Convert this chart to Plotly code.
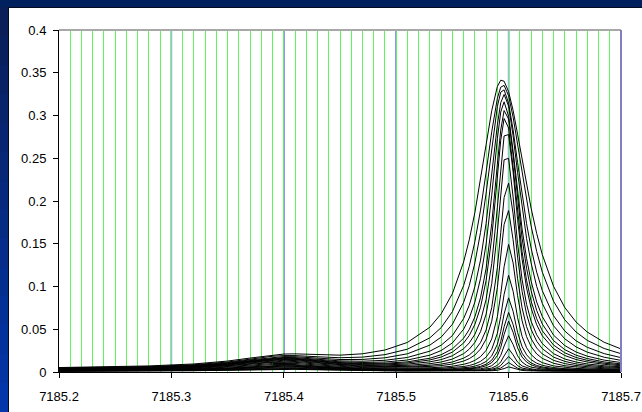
import plotly.graph_objects as go

# ---------------- data ----------------
wavelength = [7185.20, 7185.24, 7185.28, 7185.32, 7185.35, 7185.37, 7185.39, 7185.40, 7185.41, 7185.43,
              7185.45, 7185.47, 7185.49, 7185.51, 7185.53, 7185.54, 7185.55, 7185.56, 7185.565, 7185.57,
              7185.575, 7185.58, 7185.585, 7185.59, 7185.593, 7185.596, 7185.60, 7185.604, 7185.608, 7185.612,
              7185.616, 7185.62, 7185.625, 7185.63, 7185.64, 7185.65, 7185.66, 7185.67, 7185.685, 7185.70]

curve01 = [0.0052,0.0059,0.0071,0.0094,0.0128,0.0163,0.0199,0.0210,0.0212,0.0201,0.0197,0.0213,0.0257,0.0346,0.0524,0.0680,0.0917,0.1288,0.1546,0.1865,0.2242,0.2659,0.3057,0.3340,0.3413,0.3401,0.3279,0.3060,0.2782,0.2482,0.2188,0.1917,0.1620,0.1372,0.1002,0.0754,0.0585,0.0467,0.0348,0.0270]
curve02 = [0.0047,0.0053,0.0064,0.0085,0.0117,0.0150,0.0184,0.0192,0.0192,0.0178,0.0167,0.0174,0.0203,0.0267,0.0400,0.0519,0.0706,0.1011,0.1235,0.1525,0.1893,0.2337,0.2810,0.3201,0.3331,0.3352,0.3231,0.2981,0.2658,0.2318,0.1995,0.1709,0.1409,0.1168,0.0827,0.0610,0.0468,0.0370,0.0275,0.0214]
curve03 = [0.0044,0.0050,0.0059,0.0079,0.0109,0.0141,0.0172,0.0180,0.0179,0.0161,0.0146,0.0147,0.0166,0.0213,0.0315,0.0408,0.0558,0.0814,0.1010,0.1276,0.1632,0.2092,0.2626,0.3105,0.3273,0.3300,0.3143,0.2831,0.2450,0.2072,0.1734,0.1450,0.1168,0.0951,0.0658,0.0479,0.0365,0.0289,0.0215,0.0168]
curve04 = [0.0042,0.0047,0.0055,0.0074,0.0103,0.0133,0.0163,0.0170,0.0168,0.0148,0.0130,0.0126,0.0137,0.0170,0.0244,0.0313,0.0426,0.0625,0.0781,0.1000,0.1309,0.1739,0.2300,0.2891,0.3149,0.3246,0.3110,0.2764,0.2333,0.1916,0.1561,0.1275,0.1001,0.0801,0.0540,0.0388,0.0294,0.0232,0.0173,0.0136]
curve05 = [0.0040,0.0044,0.0052,0.0070,0.0098,0.0127,0.0156,0.0162,0.0160,0.0139,0.0119,0.0111,0.0117,0.0140,0.0197,0.0251,0.0340,0.0501,0.0631,0.0818,0.1093,0.1498,0.2068,0.2730,0.3040,0.3160,0.2992,0.2582,0.2104,0.1673,0.1327,0.1062,0.0819,0.0647,0.0431,0.0309,0.0234,0.0185,0.0139,0.0111]
curve06 = [0.0038,0.0042,0.0050,0.0067,0.0094,0.0123,0.0151,0.0156,0.0153,0.0132,0.0110,0.0100,0.0102,0.0119,0.0161,0.0202,0.0271,0.0395,0.0497,0.0645,0.0868,0.1212,0.1734,0.2431,0.2830,0.3058,0.2959,0.2538,0.2022,0.1566,0.1212,0.0951,0.0719,0.0560,0.0367,0.0261,0.0197,0.0157,0.0118,0.0095]
curve07 = [0.0037,0.0041,0.0048,0.0065,0.0091,0.0119,0.0146,0.0152,0.0149,0.0127,0.0105,0.0094,0.0094,0.0106,0.0141,0.0175,0.0233,0.0339,0.0427,0.0557,0.0756,0.1071,0.1570,0.2280,0.2710,0.2965,0.2854,0.2394,0.1857,0.1407,0.1071,0.0830,0.0623,0.0482,0.0315,0.0224,0.0170,0.0136,0.0103,0.0084]
curve08 = [0.0035,0.0039,0.0046,0.0062,0.0087,0.0115,0.0141,0.0146,0.0143,0.0120,0.0098,0.0086,0.0084,0.0092,0.0119,0.0145,0.0190,0.0272,0.0340,0.0441,0.0597,0.0849,0.1267,0.1927,0.2396,0.2761,0.2777,0.2341,0.1786,0.1320,0.0983,0.0749,0.0552,0.0423,0.0272,0.0193,0.0146,0.0117,0.0090,0.0073]
curve09 = [0.0033,0.0036,0.0043,0.0058,0.0082,0.0107,0.0132,0.0137,0.0134,0.0112,0.0090,0.0077,0.0073,0.0078,0.0097,0.0117,0.0151,0.0214,0.0267,0.0346,0.0471,0.0677,0.1035,0.1638,0.2102,0.2482,0.2499,0.2046,0.1504,0.1081,0.0790,0.0594,0.0435,0.0332,0.0214,0.0152,0.0117,0.0094,0.0073,0.0061]
curve10 = [0.0029,0.0033,0.0039,0.0053,0.0075,0.0099,0.0122,0.0126,0.0123,0.0102,0.0081,0.0068,0.0063,0.0066,0.0079,0.0093,0.0117,0.0162,0.0199,0.0256,0.0344,0.0492,0.0753,0.1222,0.1629,0.2040,0.2210,0.1850,0.1343,0.0943,0.0675,0.0499,0.0360,0.0272,0.0174,0.0124,0.0095,0.0077,0.0061,0.0051]
curve11 = [0.0027,0.0030,0.0035,0.0048,0.0069,0.0091,0.0112,0.0116,0.0113,0.0093,0.0073,0.0061,0.0055,0.0056,0.0065,0.0075,0.0093,0.0128,0.0156,0.0199,0.0268,0.0384,0.0594,0.0987,0.1345,0.1725,0.1888,0.1547,0.1092,0.0750,0.0530,0.0390,0.0280,0.0211,0.0136,0.0098,0.0076,0.0062,0.0050,0.0042]
curve12 = [0.0023,0.0026,0.0031,0.0042,0.0061,0.0080,0.0099,0.0103,0.0100,0.0082,0.0064,0.0052,0.0046,0.0045,0.0050,0.0056,0.0068,0.0090,0.0108,0.0136,0.0179,0.0253,0.0387,0.0648,0.0907,0.1231,0.1492,0.1276,0.0892,0.0598,0.0413,0.0298,0.0211,0.0159,0.0102,0.0073,0.0057,0.0048,0.0039,0.0033]
curve13 = [0.0020,0.0022,0.0027,0.0037,0.0053,0.0070,0.0087,0.0090,0.0087,0.0071,0.0055,0.0044,0.0038,0.0036,0.0039,0.0043,0.0050,0.0064,0.0076,0.0095,0.0124,0.0174,0.0266,0.0453,0.0648,0.0908,0.1130,0.0945,0.0637,0.0416,0.0284,0.0204,0.0145,0.0109,0.0071,0.0053,0.0042,0.0036,0.0030,0.0026]
curve14 = [0.0018,0.0020,0.0024,0.0032,0.0047,0.0062,0.0077,0.0080,0.0078,0.0063,0.0048,0.0038,0.0033,0.0031,0.0032,0.0034,0.0039,0.0048,0.0056,0.0069,0.0089,0.0123,0.0188,0.0324,0.0472,0.0679,0.0867,0.0710,0.0463,0.0296,0.0201,0.0144,0.0103,0.0078,0.0052,0.0039,0.0032,0.0028,0.0024,0.0021]
curve15 = [0.0016,0.0018,0.0022,0.0030,0.0043,0.0057,0.0070,0.0073,0.0070,0.0057,0.0044,0.0034,0.0029,0.0027,0.0027,0.0028,0.0031,0.0038,0.0044,0.0052,0.0066,0.0091,0.0138,0.0240,0.0356,0.0529,0.0696,0.0555,0.0349,0.0219,0.0147,0.0106,0.0076,0.0059,0.0040,0.0031,0.0026,0.0023,0.0020,0.0018]
curve16 = [0.0015,0.0017,0.0020,0.0028,0.0040,0.0053,0.0066,0.0068,0.0066,0.0054,0.0041,0.0032,0.0027,0.0024,0.0024,0.0025,0.0027,0.0032,0.0036,0.0043,0.0054,0.0073,0.0110,0.0191,0.0288,0.0439,0.0595,0.0464,0.0282,0.0174,0.0117,0.0084,0.0061,0.0047,0.0033,0.0026,0.0022,0.0020,0.0018,0.0016]
curve17 = [0.0014,0.0015,0.0018,0.0024,0.0035,0.0046,0.0057,0.0059,0.0058,0.0047,0.0036,0.0028,0.0023,0.0021,0.0020,0.0020,0.0022,0.0025,0.0027,0.0031,0.0038,0.0050,0.0074,0.0128,0.0194,0.0303,0.0424,0.0321,0.0189,0.0116,0.0078,0.0057,0.0042,0.0034,0.0025,0.0020,0.0018,0.0016,0.0015,0.0014]
curve18 = [0.0012,0.0013,0.0016,0.0021,0.0030,0.0040,0.0049,0.0050,0.0049,0.0040,0.0030,0.0024,0.0020,0.0018,0.0017,0.0017,0.0017,0.0019,0.0020,0.0022,0.0026,0.0033,0.0046,0.0078,0.0118,0.0188,0.0272,0.0201,0.0115,0.0071,0.0049,0.0036,0.0028,0.0023,0.0018,0.0016,0.0014,0.0013,0.0012,0.0012]
curve19 = [0.0011,0.0012,0.0014,0.0019,0.0027,0.0035,0.0043,0.0044,0.0043,0.0035,0.0027,0.0021,0.0018,0.0016,0.0015,0.0014,0.0015,0.0015,0.0016,0.0017,0.0020,0.0024,0.0032,0.0051,0.0076,0.0122,0.0181,0.0131,0.0074,0.0046,0.0033,0.0026,0.0020,0.0018,0.0014,0.0013,0.0012,0.0012,0.0011,0.0011]
curve20 = [0.0010,0.0011,0.0013,0.0017,0.0023,0.0030,0.0037,0.0038,0.0037,0.0030,0.0023,0.0019,0.0016,0.0014,0.0013,0.0013,0.0013,0.0013,0.0013,0.0014,0.0015,0.0017,0.0021,0.0032,0.0046,0.0073,0.0110,0.0078,0.0045,0.0029,0.0022,0.0018,0.0015,0.0014,0.0012,0.0011,0.0011,0.0010,0.0010,0.0010]
curve21 = [0.0010,0.0010,0.0012,0.0015,0.0020,0.0026,0.0031,0.0032,0.0031,0.0026,0.0020,0.0016,0.0014,0.0012,0.0012,0.0011,0.0011,0.0011,0.0011,0.0012,0.0012,0.0013,0.0015,0.0020,0.0027,0.0040,0.0060,0.0043,0.0026,0.0018,0.0015,0.0013,0.0012,0.0011,0.0010,0.0010,0.0010,0.0009,0.0009,0.0009]

curves = [curve01, curve02, curve03, curve04, curve05, curve06, curve07, curve08, curve09, curve10,
          curve11, curve12, curve13, curve14, curve15, curve16, curve17, curve18, curve19, curve20, curve21]

x_tick_vals = [7185.2, 7185.3, 7185.4, 7185.5, 7185.6, 7185.7]
x_tick_text = ["7185.2", "7185.3", "7185.4", "7185.5", "7185.6", "7185.7"]
y_tick_vals = [0, 0.05, 0.1, 0.15, 0.2, 0.25, 0.3, 0.35, 0.4]
y_tick_text = ["0", "0.05", "0.1", "0.15", "0.2", "0.25", "0.3", "0.35", "0.4"]

# ---------------- figure ----------------
fig = go.Figure()
for ys in curves:
    fig.add_trace(go.Scatter(x=wavelength, y=ys, mode="lines",
                             line=dict(color="black", width=1),
                             hoverinfo="skip", showlegend=False))

W, H = 642, 412
L, R, T, B = 59, 21, 30, 40
pw, ph = W - L - R, H - T - B


def px(v):
    return (v - L) / pw


def py(v):
    return (H - B - v) / ph


shapes = [
    # white chart-area panel on the blue slide background (oversized; clipped by the page)
    dict(type="rect", xref="paper", yref="paper", x0=px(8), x1=px(W) + 0.3, y0=py(H) - 0.3, y1=py(7),
         fillcolor="white", line=dict(width=0), layer="below"),
]
n = 14
c0, c1 = (10, 30, 88), (3, 54, 168)
for i in range(n):
    t = i / (n - 1)
    col = "rgb(%d,%d,%d)" % tuple(round(a + (b - a) * t) for a, b in zip(c0, c1))
    ya = 7 + i * (H - 7) / n
    yb = 7 + (i + 1) * (H - 7) / n + 1
    y_lo = py(yb) if i < n - 1 else py(H) - 0.3
    shapes.append(dict(type="rect", xref="paper", yref="paper", x0=px(0) - 0.05, x1=px(8),
                       y0=y_lo, y1=py(ya), fillcolor=col, line=dict(width=0), layer="below"))
shapes += [
    dict(type="line", xref="paper", yref="paper", x0=px(8.5), x1=px(8.5), y0=py(H) - 0.3, y1=py(7),
         line=dict(color="#000a1e", width=1), layer="below"),
    dict(type="line", xref="paper", yref="paper", x0=px(8), x1=px(W) + 0.3, y0=py(7.5), y1=py(7.5),
         line=dict(color="#000a1e", width=1), layer="below"),
]
# major (blue) vertical grid lines at the labelled ticks
for v in x_tick_vals[1:-1]:
    shapes.append(dict(type="line", xref="x", yref="paper", x0=v, x1=v, y0=0, y1=1,
                       line=dict(color="#2424ff", width=1.4), layer="between"))
shapes += [
    dict(type="line", xref="paper", yref="paper", x0=0, x1=1, y0=1, y1=1,
         line=dict(color="#a8a8a8", width=2), layer="above"),
    dict(type="line", xref="paper", yref="paper", x0=1, x1=1, y0=0, y1=1,
         line=dict(color="#8080c0", width=2), layer="above"),
]

fig.update_layout(
    width=W, height=H, autosize=False,
    margin=dict(l=L, r=R, t=T, b=B, pad=0, autoexpand=False),
    paper_bgcolor="#01205e", plot_bgcolor="white",
    font=dict(family="Liberation Sans, Arial, sans-serif", size=13, color="black"),
    showlegend=False,
    shapes=shapes,
)
fig.update_xaxes(
    range=[7185.2, 7185.7], tickmode="array", tickvals=x_tick_vals, ticktext=x_tick_text,
    showgrid=False, automargin=False,
    minor=dict(tickmode="linear", tick0=7185.2, dtick=0.01, showgrid=True,
               gridcolor="#5cf55c", gridwidth=1, ticks=""),
    ticks="outside", ticklen=5, tickcolor="black", tickwidth=1,
    showline=True, linecolor="black", linewidth=1, zeroline=False, ticklabelstandoff=7,
)
fig.update_yaxes(
    range=[0, 0.4], tickmode="array", tickvals=y_tick_vals, ticktext=y_tick_text,
    showgrid=False, automargin=False, ticks="outside", ticklen=5, tickcolor="black", tickwidth=1,
    showline=True, linecolor="black", linewidth=1, zeroline=False, ticklabelstandoff=4,
)

fig.write_html("out.html", config={"responsive": False, "displayModeBar": False})
